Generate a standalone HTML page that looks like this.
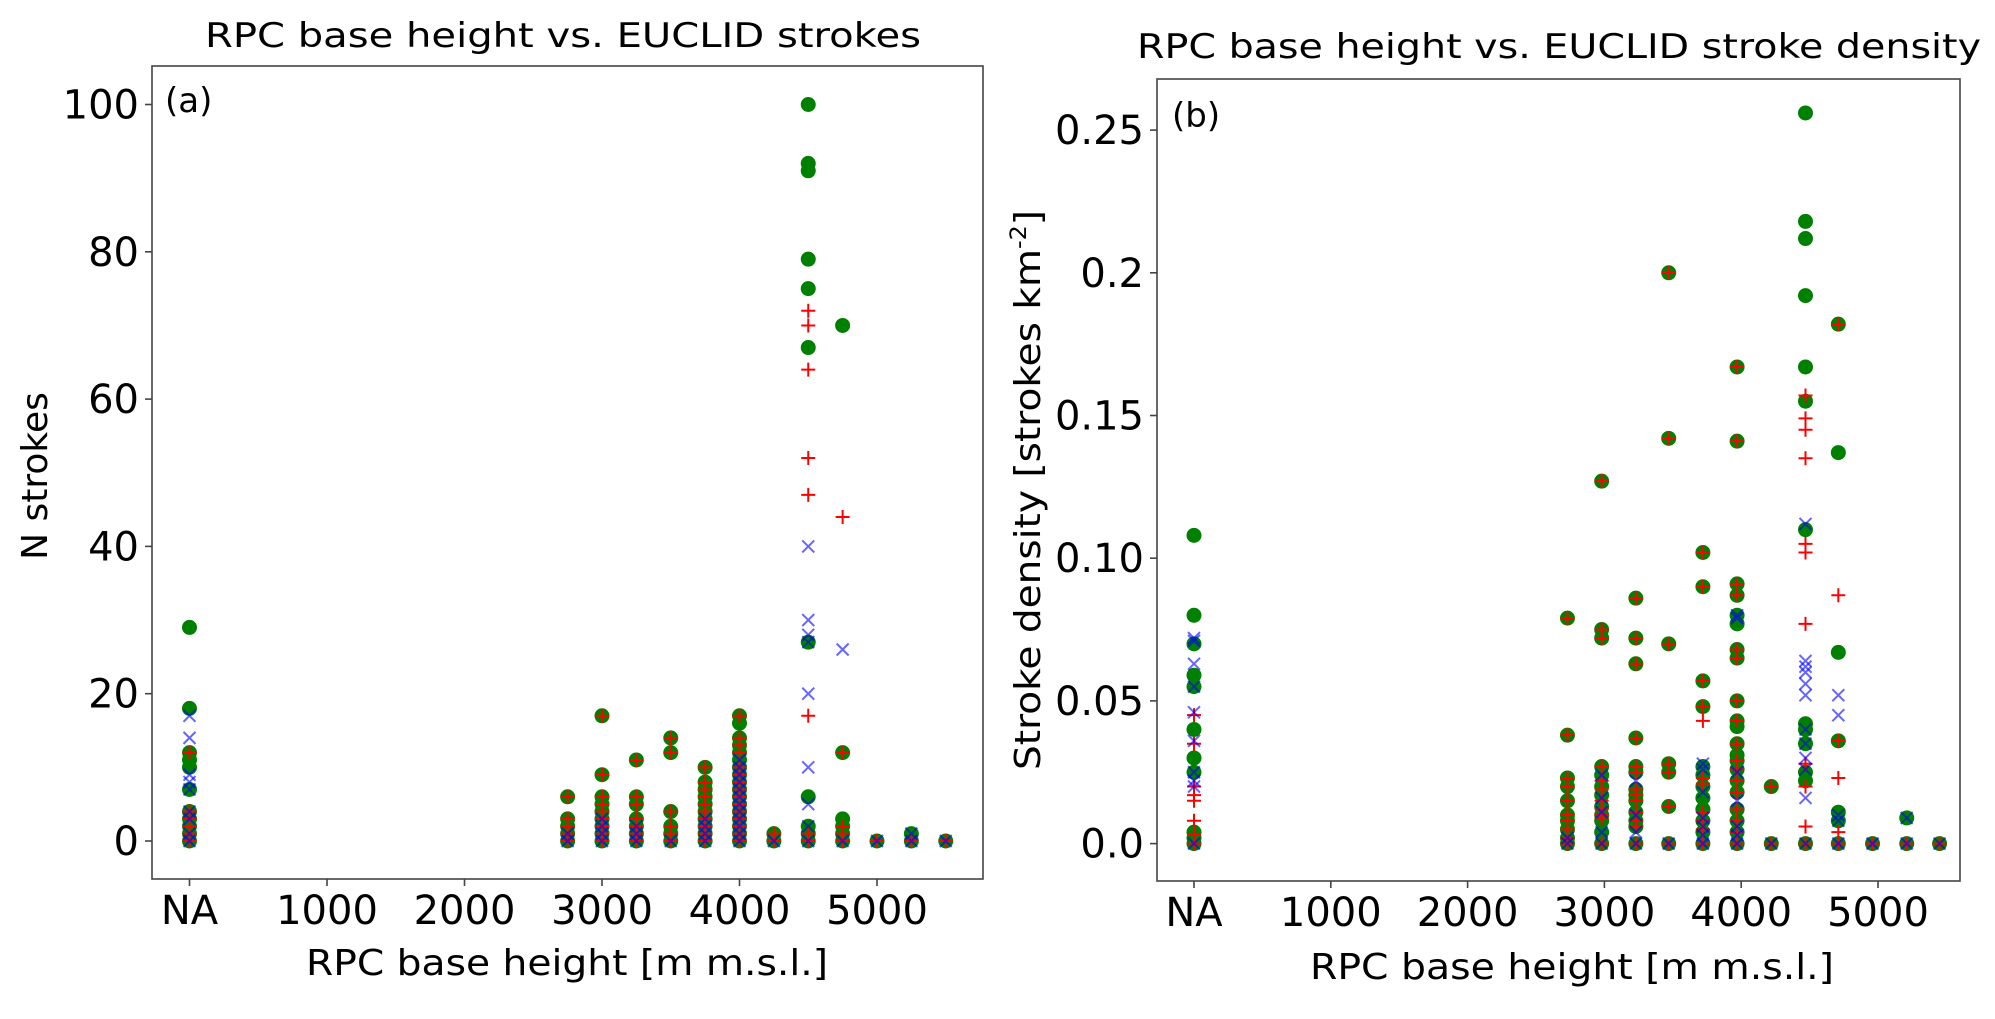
<!DOCTYPE html>
<html><head><meta charset="utf-8"><style>
html,body{margin:0;padding:0;background:#fff;}
svg{display:block;font-family:"DejaVu Sans","Liberation Sans",sans-serif;}
</style></head><body>
<svg id="chart" width="1995" height="1019" viewBox="0 0 1995 1019"></svg>
<script>
// ---- Panel (a): N strokes ----
const aHeights = [0,2750,3000,3250,3500,3750,4000,4250,4500,4750,5000,5250,5500];
const aGreen = [[29,18,12,11,10,7,4,3,2,1,0],[6,3,2,1,0],[17,9,6,5,4,3,2,1,0],[11,6,5,3,2,1,0],[14,12,4,2,1,0],[10,8,7,6,5,4,3,2,1,0],[17,16,14,13,12,11,10,9,8,7,6,5,4,3,2,1,0],[1,0],[100,92,91,79,75,67,27,6,2,1,0],[70,12,3,2,1,0],[0],[1,0],[0]];
const aRed = [[12,4,3,2,1,0],[6,3,2,1,0],[17,9,6,5,4,3,2,1,0],[11,6,5,3,2,1,0],[14,12,4,2,1,0],[10,8,7,6,5,4,3,2,1,0],[17,14,13,12,10,9,8,7,6,5,4,3,2,1,0],[1,0],[72,70,64,52,47,17,1,0],[44,12,2,1,0],[0],[0],[0]];
const aBlue = [[17,14,9,8,7,4,3,1,0],[1,0],[3,2,1,0],[2,1,0],[0],[3,2,1,0],[11,10,9,8,7,6,5,4,3,2,1,0],[0],[40,30,28,27,20,10,5,2,0],[26,0],[0],[1,0],[0]];
const aYTicks = [0,20,40,60,80,100];
const aYTickLabels = ["0","20","40","60","80","100"];
// ---- Panel (b): stroke density ----
const bHeights = [0,2730,2980,3230,3470,3720,3970,4220,4470,4710,4960,5210,5450];
const bGreen = [[.108,.080,.070,.059,.055,.040,.030,.025,.004,.002,0],[.079,.038,.023,.020,.015,.010,.008,.005,.002,0],[.127,.075,.072,.027,.024,.020,.017,.013,.010,.008,.004,0],[.086,.072,.063,.037,.027,.025,.019,.017,.015,.011,.008,.006,0],[.200,.142,.070,.028,.025,.013,0],[.102,.090,.057,.048,.027,.024,.020,.016,.012,.008,.004,0],[.167,.141,.091,.087,.080,.077,.068,.065,.050,.043,.041,.035,.031,.029,.026,.022,.018,.012,.008,.004,0],[.020,0],[.256,.218,.212,.192,.167,.155,.110,.042,.040,.035,.025,.022,0],[.182,.137,.067,.036,.011,.008,0],[0],[.009,0],[0]];
const bRed = [[.045,.035,.020,.017,.015,.008,.003,0],[.079,.038,.023,.020,.015,.010,.008,.005,.002,0],[.127,.075,.072,.027,.022,.019,.015,.012,.010,.009,0],[.086,.072,.063,.037,.027,.025,.019,.017,.015,.011,.008,.006,0],[.200,.142,.070,.028,.025,.013,0],[.102,.090,.057,.048,.043,.023,.021,.011,.008,.005,0],[.167,.141,.091,.087,.068,.065,.050,.043,.035,.029,.026,.022,.018,.012,.008,.004,0],[.020,0],[.157,.149,.145,.135,.105,.102,.077,.028,.020,.006,0],[.182,.087,.036,.023,.004,0],[0],[0],[0]];
const bBlue = [[.072,.071,.063,.055,.046,.036,.025,.022,.020,0],[.002,0],[.024,.016,.011,.004,0],[.022,.010,.004,0],[0],[.028,.026,.018,.009,.006,.003,0],[.080,.079,.025,.015,.006,.003,0],[0],[.112,.064,.062,.060,.056,.052,.040,.035,.030,.026,.016,0],[.052,.045,.010,.008,0],[0],[.009,0],[0]];
const bYTicks = [0,0.05,0.10,0.15,0.2,0.25];
const bYTickLabels = ["0.0","0.05","0.10","0.15","0.2","0.25"];
const xTicks = [0,1000,2000,3000,4000,5000];
const xTickLabels = ["NA","1000","2000","3000","4000","5000"];

const NS="http://www.w3.org/2000/svg";
const svg=document.getElementById('chart');
function mk(tag,attrs,parent){const e=document.createElementNS(NS,tag);for(const k in attrs)e.setAttribute(k,attrs[k]);(parent||svg).appendChild(e);return e;}

function panel(cfg){
  const g=mk('g',{});
  
  
  const X=v=>cfg.x0+v*cfg.xs;
  const Y=v=>cfg.y0-v*cfg.ys;
  // markers
  cfg.heights.forEach((h,i)=>{
    cfg.green[i].forEach(v=>{
      const c=mk('circle',{cx:X(h),cy:Y(v),r:7.5,fill:'#008000'},g);
      
      
    });
  });
  cfg.heights.forEach((h,i)=>{
    cfg.red[i].forEach(v=>{
      const x=X(h),y=Y(v);
      const p=mk('path',{d:`M${x-7},${y}H${x+7}M${x},${y-7}V${y+7}`,stroke:'#ff0000','stroke-width':2,fill:'none'},g);
      
      
    });
  });
  cfg.heights.forEach((h,i)=>{
    cfg.blue[i].forEach(v=>{
      const x=X(h),y=Y(v);
      const p=mk('path',{d:`M${x-6},${y-6}L${x+6},${y+6}M${x-6},${y+6}L${x+6},${y-6}`,stroke:'#0000ff','stroke-opacity':0.6,'stroke-width':2,fill:'none'},g);
      
      
    });
  });
  const box=mk('rect',{x:cfg.bx,y:cfg.by,width:cfg.bw,height:cfg.bh,fill:'none',stroke:'#444','stroke-width':1.6},g);
  
  
  xTicks.forEach((t,i)=>{
    const x=X(t);
    mk('line',{x1:x,x2:x,y1:cfg.by+cfg.bh,y2:cfg.by+cfg.bh+7,stroke:'#444','stroke-width':1.6},g);
    const tx=mk('text',{x:x,y:cfg.by+cfg.bh+45,'font-size':40,'text-anchor':'middle',fill:'#000'},g);
    tx.textContent=xTickLabels[i];
    
    
  });
  cfg.yTicks.forEach((t,i)=>{
    const y=Y(t);
    mk('line',{x1:cfg.bx-7,x2:cfg.bx,y1:y,y2:y,stroke:'#444','stroke-width':1.6},g);
    const tx=mk('text',{x:cfg.bx-13,y:y+14,'font-size':40,'text-anchor':'end',fill:'#000'},g);
    tx.textContent=cfg.yTickLabels[i];
    
    
  });
}

panel({name:'panel-a',heights:aHeights,green:aGreen,red:aRed,blue:aBlue,yTicks:aYTicks,yTickLabels:aYTickLabels,
  x0:189.5,xs:0.1375,y0:841,ys:7.365,bx:152,by:66,bw:831,bh:813});
panel({name:'panel-b',heights:bHeights,green:bGreen,red:bRed,blue:bBlue,yTicks:bYTicks,yTickLabels:bYTickLabels,
  x0:1194,xs:0.1368,y0:843.6,ys:2854,bx:1157,by:79,bw:803,bh:802});
</script>
<svg style="position:absolute;left:0;top:0" width="1995" height="1019">
<text x="563" y="47" font-size="34" text-anchor="middle" textLength="716" lengthAdjust="spacingAndGlyphs">RPC base height vs. EUCLID strokes</text>
<text x="1559" y="58" font-size="34" text-anchor="middle" textLength="844" lengthAdjust="spacingAndGlyphs">RPC base height vs. EUCLID stroke density</text>
<text x="165" y="112" font-size="34">(a)</text>
<text x="1172" y="127" font-size="34">(b)</text>
<text x="567" y="975" font-size="36" text-anchor="middle" textLength="522" lengthAdjust="spacingAndGlyphs">RPC base height [m m.s.l.]</text>
<text x="1572" y="979" font-size="36" text-anchor="middle" textLength="524" lengthAdjust="spacingAndGlyphs">RPC base height [m m.s.l.]</text>
<text transform="translate(47,476) rotate(-90)" font-size="36" text-anchor="middle">N strokes</text>
<text transform="translate(1040,490) rotate(-90)" font-size="36" text-anchor="middle" textLength="560" lengthAdjust="spacingAndGlyphs">Stroke density [strokes km<tspan dy="-14" font-size="22">-2</tspan><tspan dy="14">]</tspan></text>
</svg>
</body></html>
